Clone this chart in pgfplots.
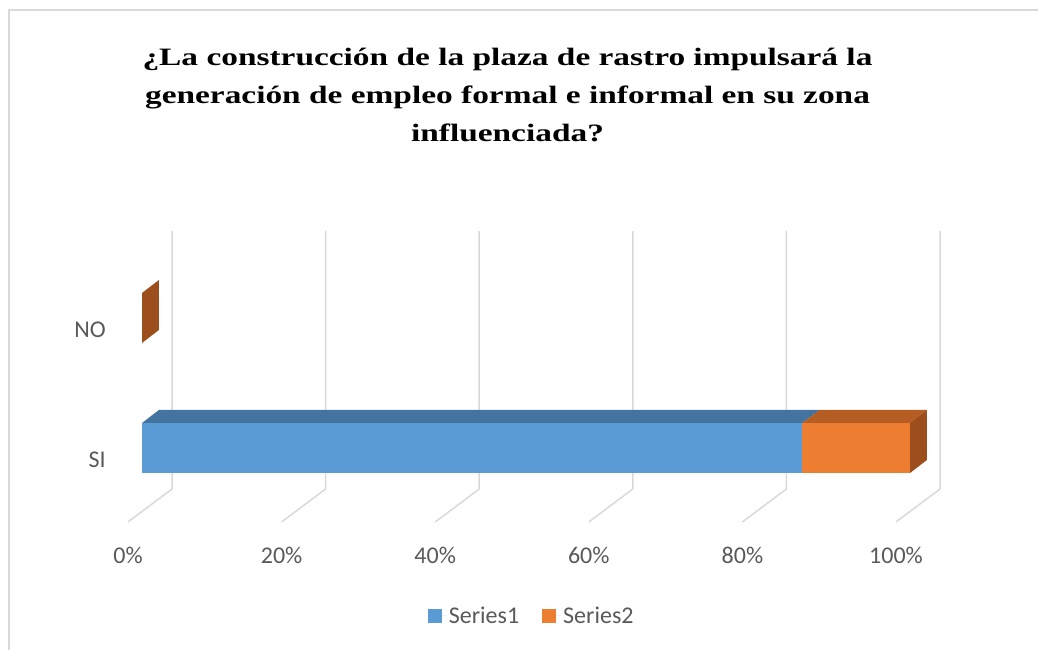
\documentclass[border=0pt]{standalone}
\usepackage{graphicx}
\usepackage{pgfplots}
\pgfplotsset{compat=1.18}
\usepackage{fontspec}
\setmainfont{Carlito}
\newfontfamily\titlefont{Liberation Serif}
\definecolor{txt}{HTML}{595959}
\definecolor{gridc}{HTML}{D9D9D9}
\definecolor{sA}{HTML}{5B9BD5}
\definecolor{sAtop}{HTML}{44739F}
\definecolor{sB}{HTML}{ED7D31}
\definecolor{sBtop}{HTML}{B55D22}
\definecolor{sBside}{HTML}{9C4F1C}
\pgfplotsset{geom/.style={
  scale only axis, width=860pt, height=340pt,
  xmin=-5.469, xmax=106.51, ymin=-0.7077, ymax=1.9077,
  at={(100pt,110pt)}, anchor=south west, clip=false,
  axis line style={draw=none}, major tick length=0pt,
  xtick=\empty, ytick=\empty,
}}
\newcommand{\tline}[1]{\scalebox{1.335}[1]{#1}}
\begin{document}
\begin{tikzpicture}
\path[use as bounding box] (0,0) rectangle (1038pt,650pt);
\draw[gridc, line width=2pt] (9pt,0) -- (9pt,640pt) -- (1038pt,640pt);
\begin{scope}[font=\titlefont\bfseries\fontsize{25}{30}\selectfont]
\node[anchor=base] at (507.5pt,584.3pt) {\tline{¿La construcción de la plaza de rastro impulsará la}};
\node[anchor=base] at (507.5pt,546pt) {\tline{generación de empleo formal e informal en su zona}};
\node[anchor=base] at (507.5pt,508.3pt) {\tline{influenciada?}};
\end{scope}
% background: gridlines and tick labels
\begin{axis}[geom,
  xtick={-1.823,18.177,38.177,58.177,78.177,98.177},
  xticklabels={0\%,20\%,40\%,60\%,80\%,100\%},
  ytick={-0.088,0.908}, yticklabels={SI,NO},
  ticklabel style={font=\fontsize{24}{28}\selectfont, text=txt},
  xticklabel style={anchor=north, inner sep=0pt, yshift=-7pt},
  yticklabel style={anchor=east, inner sep=0pt, xshift=6pt},
  /pgf/number format/assume math mode=true]
\addplot[gridc, line width=1.5pt] coordinates {(3.906,1.669) (3.906,-0.3154) (-1.823,-0.569)};
\addplot[gridc, line width=1.5pt] coordinates {(23.906,1.669) (23.906,-0.3154) (18.177,-0.569)};
\addplot[gridc, line width=1.5pt] coordinates {(43.906,1.669) (43.906,-0.3154) (38.177,-0.569)};
\addplot[gridc, line width=1.5pt] coordinates {(63.906,1.669) (63.906,-0.3154) (58.177,-0.569)};
\addplot[gridc, line width=1.5pt] coordinates {(83.906,1.669) (83.906,-0.3154) (78.177,-0.569)};
\addplot[gridc, line width=1.5pt] coordinates {(103.906,1.669) (103.906,-0.3154) (98.177,-0.569)};
\end{axis}
% bars
\begin{axis}[geom, xbar stacked, bar width=50pt,
  legend style={at={(0.502,-0.2235)}, anchor=center, draw=none, fill=none,
    font=\fontsize{24}{28}\selectfont, text=txt, legend columns=2,
    /tikz/every even column/.append style={column sep=21pt}},
  legend image code/.code={\fill[#1] (0pt,-7pt) rectangle (14pt,7pt); \path (0pt,0pt) -- (19pt,0pt);}]
\addplot[fill=sA, draw=none] coordinates {(86,0) (0,1)};
\addplot[fill=sB, draw=none] coordinates {(14,0) (0,1)};
\legend{Series1,Series2}
\end{axis}
% 3D faces
\begin{axis}[geom]
\addplot[fill=sAtop, draw=none] coordinates {(0,0.1923) (86,0.1923) (88.2,0.2923) (2.2,0.2923) (0,0.1923)};
\addplot[fill=sBtop, draw=none] coordinates {(86,0.1923) (100,0.1923) (102.2,0.2923) (88.2,0.2923) (86,0.1923)};
\addplot[fill=sBside, draw=none] coordinates {(100,-0.1923) (100,0.1923) (102.2,0.2923) (102.2,-0.0923) (100,-0.1923)};
\addplot[fill=sBside, draw=none] coordinates {(0,0.8077) (0,1.1923) (2.2,1.2923) (2.2,0.9077) (0,0.8077)};
\end{axis}
\end{tikzpicture}
\end{document}
